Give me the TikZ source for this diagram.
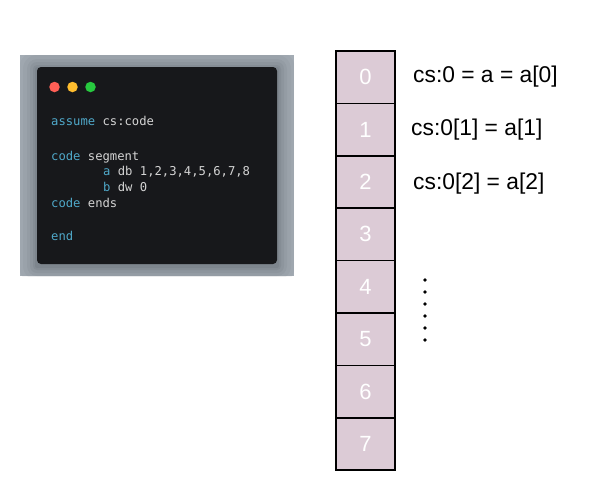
\documentclass[tikz,border=0pt]{standalone}
\usepackage{fontspec}
\setmainfont{Liberation Sans}
\newfontfamily\codefont{DejaVu Sans Mono}
\definecolor{cellfill}{HTML}{DCCBD6}
\definecolor{winbg}{HTML}{17181B}
\definecolor{outerbg}{HTML}{A4ACB4}
\definecolor{shadowc}{HTML}{4A525A}
\definecolor{kw}{HTML}{4FA8C9}
\definecolor{codetxt}{HTML}{D4D4D4}
\definecolor{tlred}{HTML}{FF5F56}
\definecolor{tlyellow}{HTML}{FFBD2E}
\definecolor{tlgreen}{HTML}{27C93F}
\begin{document}
\begin{tikzpicture}[x=1pt,y=-1pt,
  cell/.style={draw=black,line width=1.6pt,fill=cellfill,minimum width=59pt,minimum height=52.4pt,inner sep=0pt,text=white,font=\fontsize{22}{22}\selectfont},
  lbl/.style={anchor=west,inner sep=0pt,font=\fontsize{22.8}{22.8}\selectfont},
  code/.style={anchor=base west,inner sep=0pt,font=\codefont\fontsize{12.2}{12.2}\selectfont,text=codetxt},
  dotc/.style={circle,fill=black,inner sep=0pt,minimum size=3.6pt}]
\useasboundingbox (0,0) rectangle (603,498);
% code screenshot
\fill[outerbg] (20,55) rectangle (294,276);
\begin{scope}
\clip (20,55) rectangle (294,276);
\foreach \s/\o in {18/0.05,14/0.06,10/0.07,7/0.09,4/0.11,2/0.13}{
  \fill[shadowc,opacity=\o,rounded corners=\s pt] (37-\s,69-\s) rectangle (277+\s,266+\s);
}
\end{scope}
\fill[winbg,rounded corners=4pt] (37,67) rectangle (277,264);
\node[circle,fill=tlred,inner sep=0pt,minimum size=10.5pt] (r) at (54.5,87) {};
\node[circle,fill=tlyellow,inner sep=0pt,minimum size=10.5pt] (y) at (72.5,87) {};
\node[circle,fill=tlgreen,inner sep=0pt,minimum size=10.5pt] (g) at (90.5,87) {};
\node[code] (l1) at (51,125) {\textcolor{kw}{assume} cs:code};
\node[code] (l2) at (51,160) {\textcolor{kw}{code} segment};
\node[code] (l3) at (103,175.5) {\textcolor{kw}{a} db 1,2,3,4,5,6,7,8};
\node[code] (l4) at (103,191.5) {\textcolor{kw}{b} dw 0};
\node[code] (l5) at (51,207.5) {\textcolor{kw}{code} ends};
\node[code] (l6) at (51,240) {\textcolor{kw}{end}};
% memory cells
\foreach \i in {0,...,7}{
  \node[cell] (c\i) at (365.5,{51+52.4*\i+26.2}) {\i};
}
\node[lbl] (t0) at (413,77) {cs:0 = a = a[0]};
\node[lbl] (t1) at (411,130) {cs:0[1] = a[1]};
\node[lbl] (t2) at (413,184) {cs:0[2] = a[2]};
\foreach \j in {0,...,5}{
  \node[dotc] (d\j) at (425,{280+12*\j}) {};
}
\end{tikzpicture}
\end{document}
